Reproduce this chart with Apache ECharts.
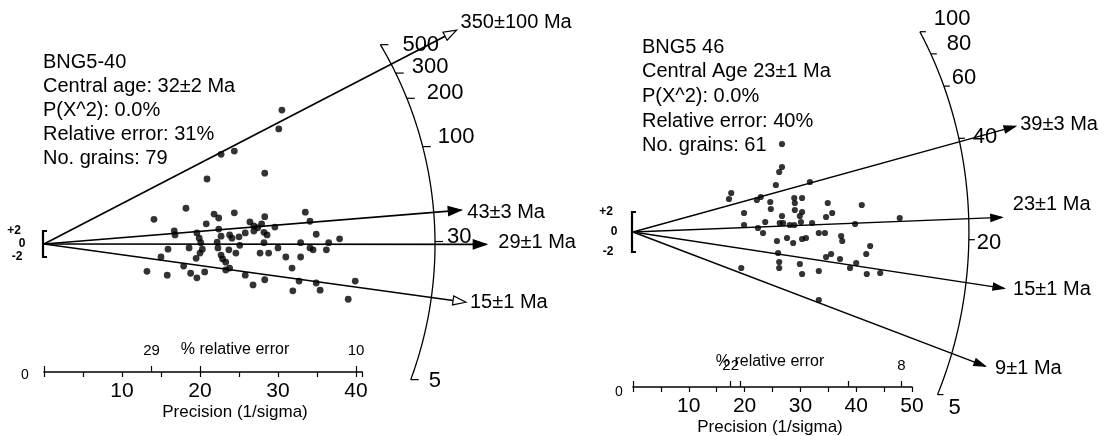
<!DOCTYPE html>
<html>
<head>
<meta charset="utf-8">
<script src="https://cdn.jsdelivr.net/npm/echarts@6/dist/echarts.min.js"></script>
<style>
  html, body { margin: 0; padding: 0; background: #fff; }
  #chart { width: 1116px; height: 436px; }
</style>
</head>
<body>
<div id="chart"></div>
<script>
// ===== Sample BNG5-40 =====
const aInfo = ['BNG5-40', 'Central age: 32\u00b12 Ma', 'P(X^2): 0.0%', 'Relative error: 31%', 'No. grains: 79'];
// grains: [precision (1/sigma), standardised estimate]
const aGrains = [
  [30.5,20.6],[30.1,17.7],[22.7,13.8],[24.4,14.3],[20.9,10.0],[28.3,10.9],
  [18.2,5.5],[14.1,3.8],[21.8,4.6],[22.4,4.0],[24.4,4.8],[28.3,4.2],[33.5,4.9],[34.1,3.5],
  [20.8,3.1],[22.4,2.3],[26.4,3.4],[26.9,2.8],[27.4,2.5],[28.2,1.8],[29.6,2.6],
  [16.7,2.0],[16.8,1.4],[19.6,1.7],[19.9,0.9],[23.8,1.4],[24.1,0.9],[25.0,1.1],[25.8,1.7],[26.9,2.0],[28.6,1.4],[34.9,1.5],[37.9,0.8],
  [22.2,0.3],[20.1,0.2],[18.6,-0.6],[15.9,-0.8],[20.3,-0.8],[22.3,-0.6],[23.7,-0.9],[24.6,-1.4],[28.2,0.2],[27.7,-1.4],[28.8,-1.4],[30.0,-0.6],[32.9,0.2],[34.1,-0.6],[34.5,-0.9],[36.2,-0.9],[36.5,0.2],
  [31.0,-2.0],[32.9,-2.0],[15.0,-2.0],[19.5,-2.2],[22.7,-1.7],[22.9,-2.3],[23.3,-2.8],
  [17.9,-3.4],[20.6,-4.3],[13.2,-4.2],[15.8,-4.8],[18.8,-4.5],[19.6,-5.2],[23.3,-4.0],[23.8,-3.7],[25.8,-4.8],[28.3,-5.5],[26.8,-6.3],[31.8,-3.7],[32.7,-5.7],[34.9,-6.0],[35.4,-7.1],[31.9,-7.2],[39.9,-5.7],[39.0,-8.5],
  [27.9,3.1],[22.7,1.2],[20.0,-1.4],[25.1,-0.2]
];
const aRayAges = [350, 43, 29, 15];
const aRayErrs = [100, 3, 1, 1];
const aArcAges = [30, 100, 200, 300, 500];
const aArcEnd = '5';
const aRefAge = 29.1;
const aRelErrTicks = [29, 20, 10];
const aRelErrLabels = [29, 10];

// ===== Sample BNG5 46 =====
const bInfo = ['BNG5 46', 'Central Age 23\u00b11 Ma', 'P(X^2): 0.0%', 'Relative error: 40%', 'No. grains: 61'];
const bGrains = [
  [26.7,8.8],[26.7,6.5],[26.2,6.0],[31.7,5.0],[25.6,4.7],[17.6,3.9],[17.2,3.3],[22.2,3.2],[22.9,3.5],[24.6,3.0],[28.9,3.4],[29.0,2.9],[30.3,3.4],
  [19.9,1.9],[24.7,2.3],[26.7,1.6],[29.0,2.2],[30.3,2.0],[29.9,1.6],[34.9,2.9],[35.7,1.9],[34.6,1.5],[41.0,2.7],
  [19.9,0.7],[23.7,1.0],[26.3,0.9],[26.9,0.9],[28.1,0.7],[28.9,0.7],[30.1,1.0],[32.1,0.9],[39.8,0.8],[47.8,1.4],
  [22.4,0.4],[23.3,-0.1],[25.8,-0.9],[27.6,-0.6],[28.7,-1.1],[30.3,-0.7],[31.0,-0.6],[33.3,-0.1],[34.4,-0.1],[37.3,-0.4],[37.5,-0.9],[42.5,-1.4],
  [26.0,-2.1],[26.2,-3.0],[26.2,-3.6],[29.9,-3.2],[34.6,-2.5],[35.5,-2.2],[37.1,-2.7],[40.0,-3.1],[41.8,-2.2],[38.9,-3.6],[41.9,-4.2],[44.3,-4.1],[19.4,-3.6],[30.3,-4.2],[33.3,-3.9],[33.3,-6.8]
];
const bRayAges = [39, 23, 15, 9];
const bRayErrs = [3, 1, 1, 1];
const bArcAges = [20, 40, 60, 80, 100];
const bArcEnd = '5';
const bRefAge = 21.05;
const bRelErrTicks = [22, 20, 10, 8];
const bRelErrLabels = [22, 8];

// ===== Shared scale: log-age, four standardised units per log unit =====
const Z_SCALE = 4;
const slopeFor = (age, ref) => Math.log(age / ref) / Z_SCALE;
const FONT = "'Liberation Sans', Arial, Helvetica, sans-serif";

// ===== Panel layout (pixels) =====
const layoutA = {
  ox: 44, oy: 244, xs: 7.8, ys: 6.5, axisY: 372, xMax: 40.8, top: 8,
  arcR: 50.13, arcAspect: 1, arcFromDeg: -20.3, arcFont: 22, tickLen: 8,
  arcLabelOff: [[2,-5],[5,-10],[10,-5],[6,-6],[12,0]], endLabelOff: [8,1],
  rayReach: [52.9, 53.5, 56.7, 54.1], rayLabelOff: [[4,-8],[6,2],[12,-2],[4,0]],
  openHead: [true, false, false, true], headLen: 13, headW: 9, rayWidth: 1.7, rayFont: 20,
  dotSize: 6.8, bracketLabelDx: [-29, -21, -26], relErrConst: 400,
  infoX: 43, infoY0: 62, infoDy: 24, infoFont: 20,
  relTitle: [235, 350], precTitle: [235, 412], zeroLabel: [25, 375]
};
const layoutB = {
  ox: 633, oy: 232, xs: 5.58, ys: 10, axisY: 387, xMax: 50, top: 8,
  arcR: 60.2, arcAspect: 1.146, arcFromDeg: -28.1, arcFont: 22, tickLen: 6,
  arcLabelOff: [[0,3],[6,-1],[0,-8],[8,-10],[6,-13]], endLabelOff: [3,13],
  rayReach: [68.5, 66.1, 66.5, 63.1], rayLabelOff: [[5,-2],[11,-13],[9,1],[10,2]],
  openHead: [false, false, false, false], headLen: 11, headW: 7, rayWidth: 1.4, rayFont: 20,
  dotSize: 6.2, bracketLabelDx: [-26, -18, -24], relErrConst: 385,
  infoX: 642, infoY0: 47, infoDy: 24.7, infoFont: 20,
  relTitle: [770, 362], precTitle: [770, 427], zeroLabel: [619, 392]
};

function textEl(x, y, text, size, align, weight) {
  const font = (weight ? weight + ' ' : '') + size + 'px ' + FONT;
  return {
    type: 'text', x: x, y: y, silent: true,
    style: {
      text: text, fill: '#000', font: font,
      textAlign: align || 'left', textVerticalAlign: 'middle',
      align: align || 'left', verticalAlign: 'middle'
    }
  };
}

function gridFor(L) {
  return { left: L.ox, top: L.top, width: L.xMax * L.xs, height: L.axisY - L.top,
           containLabel: false, outerBoundsMode: 'none' };
}
function yAxisFor(L, gi) {
  return { gridIndex: gi, type: 'value', show: false,
           min: -(L.axisY - L.oy) / L.ys, max: (L.oy - L.top) / L.ys };
}
function precisionAxis(L, gi) {
  return {
    gridIndex: gi, type: 'value', position: 'bottom', min: 0, max: L.xMax, interval: 5,
    axisLine: { show: true, onZero: false, lineStyle: { color: '#000', width: 1.6 } },
    axisTick: { show: true, length: 5, lineStyle: { color: '#000', width: 1.2 } },
    axisLabel: { show: true, margin: 9, color: '#000', fontSize: 21, fontFamily: FONT,
                 formatter: v => (v > 0 && v % 10 === 0) ? String(v) : '' },
    splitLine: { show: false }
  };
}
function relErrAxis(L, gi, ticks, labels) {
  const c = L.relErrConst;
  return {
    gridIndex: gi, type: 'value', position: 'bottom', offset: 0, min: 0, max: L.xMax,
    axisLine: { show: false, onZero: false },
    axisTick: { show: true, inside: true, length: 6, lineStyle: { color: '#000', width: 1.2 },
                customValues: [0].concat(ticks.map(e => c / e)) },
    axisLabel: { show: true, inside: true, margin: 14, color: '#000', fontSize: 15, fontFamily: FONT,
                 customValues: labels.map(e => c / e),
                 formatter: v => String(Math.round(c / v)) },
    splitLine: { show: false }
  };
}

// Age arc with its tick marks
function arcSeries(L, gi, ages, endText, ref) {
  return {
    type: 'custom', xAxisIndex: 2 * gi, yAxisIndex: gi, clip: false, silent: true,
    data: [[0, 0]],
    renderItem: function (params, api) {
      const O = api.coord([0, 0]);
      const U = api.coord([1, 1]);
      const sx = U[0] - O[0], sy = O[1] - U[1];
      const rx = L.arcR * sx, ry = rx * L.arcAspect;
      const ang = age => Math.atan(slopeFor(age, ref) * sy / sx);
      const at = th => {
        const r = 1 / Math.hypot(Math.cos(th) / rx, Math.sin(th) / ry);
        return [O[0] + r * Math.cos(th), O[1] - r * Math.sin(th)];
      };
      const th0 = L.arcFromDeg * Math.PI / 180;
      const th1 = ang(Math.max.apply(null, ages));
      const pts = [];
      for (let i = 0; i <= 160; i++) pts.push(at(th0 + (th1 - th0) * i / 160));
      const children = [{ type: 'polyline', shape: { points: pts },
                          style: { stroke: '#000', lineWidth: 1.3, fill: null } }];
      const addTick = (p, text, d) => {
        children.push({ type: 'line', shape: { x1: p[0], y1: p[1], x2: p[0] + L.tickLen, y2: p[1] },
                        style: { stroke: '#000', lineWidth: 1.2 } });
        children.push(textEl(p[0] + L.tickLen + 2 + d[0], p[1] + d[1], text, L.arcFont, 'left'));
      };
      ages.forEach((t, i) => addTick(at(ang(t)), String(t), L.arcLabelOff[i]));
      addTick(at(th0), endText, L.endLabelOff);
      return { type: 'group', children: children };
    }
  };
}

// Component-age rays with arrowheads and labels
function raySeries(L, gi, ages, errs, ref) {
  return {
    type: 'custom', xAxisIndex: 2 * gi, yAxisIndex: gi, clip: false, silent: true,
    data: ages.map((a, i) => [a, errs[i]]),
    renderItem: function (params, api) {
      const i = params.dataIndex;
      const age = ages[i];
      const s = slopeFor(age, ref);
      const reach = L.rayReach[i];
      const O = api.coord([0, 0]);
      const E = api.coord([reach, s * reach]);
      const dx = E[0] - O[0], dy = E[1] - O[1];
      const len = Math.hypot(dx, dy), ux = dx / len, uy = dy / len;
      const B = [E[0] - ux * L.headLen, E[1] - uy * L.headLen];
      const hw = L.headW / 2;
      const head = [E, [B[0] - uy * hw, B[1] + ux * hw], [B[0] + uy * hw, B[1] - ux * hw]];
      const open = L.openHead[i];
      const off = L.rayLabelOff[i];
      return { type: 'group', children: [
        { type: 'line', shape: { x1: O[0], y1: O[1], x2: open ? B[0] : E[0], y2: open ? B[1] : E[1] },
          style: { stroke: '#000', lineWidth: L.rayWidth } },
        { type: 'polygon', shape: { points: head },
          style: { fill: open ? '#fff' : '#000', stroke: '#000', lineWidth: 1.2 } },
        textEl(E[0] + off[0], E[1] + off[1], age + '\u00b1' + errs[i] + ' Ma', L.rayFont, 'left')
      ] };
    }
  };
}

// +/-2 band marker on the standardised-estimate axis
function bracketSeries(L, gi, band) {
  return {
    type: 'custom', xAxisIndex: 2 * gi, yAxisIndex: gi, clip: false, silent: true,
    data: [[0, band]],
    renderItem: function (params, api) {
      const t = api.coord([0, band]), m = api.coord([0, 0]), b = api.coord([0, -band]);
      const x = t[0] - 1, w = 4;
      const dxs = L.bracketLabelDx;
      return { type: 'group', children: [
        { type: 'polyline', shape: { points: [[x + w, t[1]], [x, t[1]], [x, b[1]], [x + w, b[1]]] },
          style: { stroke: '#000', lineWidth: 2.2, fill: null } },
        { type: 'line', shape: { x1: x, y1: m[1], x2: x + 3, y2: m[1] }, style: { stroke: '#000', lineWidth: 1.5 } },
        textEl(x + dxs[0], t[1], '+' + band, 12, 'center', 'bold'),
        textEl(x + dxs[1], m[1], '0', 12, 'center', 'bold'),
        textEl(x + dxs[2], b[1], '-' + band, 12, 'center', 'bold')
      ] };
    }
  };
}

function grainSeries(L, gi, pts) {
  return { type: 'scatter', xAxisIndex: 2 * gi, yAxisIndex: gi, data: pts, clip: false, silent: true,
           symbol: 'circle', symbolSize: L.dotSize, itemStyle: { color: '#000' } };
}

function panelTexts(L, info) {
  const els = info.map((s, i) => textEl(L.infoX, L.infoY0 + i * L.infoDy, s, L.infoFont, 'left'));
  els.push(textEl(L.relTitle[0], L.relTitle[1], '% relative error', 16, 'center'));
  els.push(textEl(L.precTitle[0], L.precTitle[1], 'Precision (1/sigma)', 17, 'center'));
  els.push(textEl(L.zeroLabel[0], L.zeroLabel[1], '0', 14, 'center'));
  return els;
}

const chart = echarts.init(document.getElementById('chart'), null, { renderer: 'canvas' });
chart.setOption({
  animation: false,
  backgroundColor: '#fff',
  grid: [gridFor(layoutA), gridFor(layoutB)],
  xAxis: [
    precisionAxis(layoutA, 0), relErrAxis(layoutA, 0, aRelErrTicks, aRelErrLabels),
    precisionAxis(layoutB, 1), relErrAxis(layoutB, 1, bRelErrTicks, bRelErrLabels)
  ],
  yAxis: [yAxisFor(layoutA, 0), yAxisFor(layoutB, 1)],
  graphic: { elements: panelTexts(layoutA, aInfo).concat(panelTexts(layoutB, bInfo)) },
  series: [
    arcSeries(layoutA, 0, aArcAges, aArcEnd, aRefAge),
    raySeries(layoutA, 0, aRayAges, aRayErrs, aRefAge),
    bracketSeries(layoutA, 0, 2),
    grainSeries(layoutA, 0, aGrains),
    arcSeries(layoutB, 1, bArcAges, bArcEnd, bRefAge),
    raySeries(layoutB, 1, bRayAges, bRayErrs, bRefAge),
    bracketSeries(layoutB, 1, 2),
    grainSeries(layoutB, 1, bGrains)
  ]
});
</script>
</body>
</html>
